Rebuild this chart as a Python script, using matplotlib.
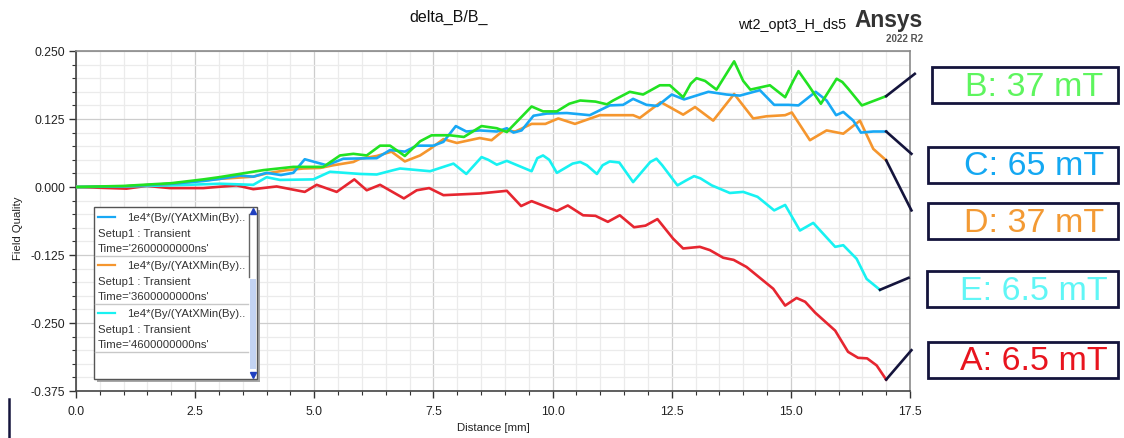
import matplotlib
matplotlib.use('Agg')
import matplotlib.pyplot as plt
from matplotlib.patches import Rectangle
from matplotlib.lines import Line2D
from matplotlib.ticker import MultipleLocator, FormatStrFormatter

plt.rcParams['font.family'] = ['Liberation Sans', 'DejaVu Sans']

# ---- data (Distance [mm], Field Quality) ----
B_x = [0, 1.0, 2.0, 2.67, 3.0, 3.5, 3.93, 4.56, 5.19, 5.54, 5.82, 6.1, 6.38, 6.59, 6.9,
       7.22, 7.46, 7.85, 8.14, 8.51, 8.83, 9.04, 9.56, 9.80, 10.09, 10.35, 10.58, 10.9,
       11.14, 11.27, 11.62, 11.90, 12.25, 12.46, 12.74, 12.9, 13.02, 13.2, 13.44, 13.81,
       14.0, 14.15, 14.56, 14.88, 15.05, 15.16, 15.37, 15.63, 15.96, 16.08, 16.20, 16.49, 17.0]
B_y = [0, 0.002, 0.007, 0.014, 0.018, 0.025, 0.031, 0.037, 0.037, 0.058, 0.061, 0.058, 0.076,
       0.076, 0.057, 0.084, 0.095, 0.095, 0.092, 0.112, 0.108, 0.101, 0.148, 0.139, 0.139,
       0.153, 0.159, 0.157, 0.152, 0.159, 0.175, 0.170, 0.187, 0.187, 0.165, 0.19, 0.200,
       0.195, 0.179, 0.231, 0.195, 0.179, 0.187, 0.165, 0.195, 0.213, 0.187, 0.153, 0.199,
       0.193, 0.181, 0.150, 0.167]

C_x = [0, 1.0, 2.0, 2.67, 3.02, 3.44, 3.72, 4.0, 4.3, 4.56, 4.8, 5.26, 5.61, 6.31, 6.59,
       6.9, 7.15, 7.5, 7.71, 7.97, 8.19, 8.47, 8.83, 9.04, 9.18, 9.35, 9.6, 9.88, 10.3,
       10.78, 11.2, 11.48, 11.69, 11.97, 12.2, 12.5, 12.76, 13.27, 13.65, 13.93, 14.35,
       14.65, 14.95, 15.16, 15.52, 15.75, 15.95, 16.1, 16.31, 16.47, 16.73, 17.0]
C_y = [0, 0.001, 0.006, 0.011, 0.015, 0.021, 0.019, 0.026, 0.022, 0.026, 0.051, 0.040,
       0.052, 0.053, 0.068, 0.065, 0.076, 0.076, 0.083, 0.112, 0.102, 0.104, 0.102, 0.108,
       0.100, 0.104, 0.131, 0.135, 0.136, 0.132, 0.150, 0.151, 0.162, 0.151, 0.149, 0.170,
       0.161, 0.175, 0.170, 0.168, 0.178, 0.151, 0.151, 0.150, 0.175, 0.159, 0.132, 0.138,
       0.122, 0.100, 0.102, 0.102]

D_x = [0, 1.0, 2.0, 2.67, 3.02, 3.72, 4.0, 4.42, 4.77, 5.12, 5.4, 5.82, 5.96, 6.31, 6.62,
       6.9, 7.22, 7.43, 7.71, 7.99, 8.47, 8.72, 8.97, 9.22, 9.56, 9.85, 10.12, 10.47, 10.99,
       11.69, 11.83, 12.27, 12.74, 12.99, 13.37, 13.81, 14.21, 14.49, 14.88, 15.02, 15.4,
       15.75, 16.1, 16.45, 16.73, 17.0]
D_y = [0, 0.001, 0.006, 0.012, 0.015, 0.019, 0.025, 0.031, 0.034, 0.035, 0.040, 0.046,
       0.052, 0.057, 0.065, 0.047, 0.058, 0.070, 0.088, 0.081, 0.090, 0.086, 0.104, 0.102,
       0.116, 0.116, 0.126, 0.116, 0.132, 0.132, 0.127, 0.156, 0.133, 0.147, 0.122, 0.171,
       0.126, 0.130, 0.132, 0.137, 0.086, 0.104, 0.098, 0.122, 0.070, 0.049]

E_x = [0, 1.0, 2.0, 3.02, 3.72, 4.0, 4.28, 4.98, 5.33, 5.96, 6.31, 6.66, 6.8, 7.43, 7.92,
       8.19, 8.51, 8.65, 8.83, 9.04, 9.56, 9.68, 9.8, 9.93, 10.09, 10.42, 10.58, 10.72,
       10.93, 11.05, 11.2, 11.4, 11.69, 12.05, 12.18, 12.3, 12.62, 12.8, 12.97, 13.1, 13.34,
       13.72, 14.0, 14.3, 14.65, 14.88, 15.19, 15.47, 15.93, 16.1, 16.38, 16.59, 16.87]
E_y = [0, 0.001, 0.003, 0.006, 0.004, 0.018, 0.013, 0.014, 0.028, 0.024, 0.023, 0.031,
       0.034, 0.029, 0.043, 0.024, 0.055, 0.050, 0.041, 0.048, 0.029, 0.053, 0.058, 0.050,
       0.026, 0.043, 0.046, 0.040, 0.024, 0.040, 0.047, 0.045, 0.009, 0.046, 0.052, 0.040,
       0.003, 0.012, 0.020, 0.016, 0.003, -0.011, -0.009, -0.018, -0.043, -0.033, -0.080,
       -0.066, -0.110, -0.107, -0.132, -0.169, -0.189]

A_x = [0, 1.06, 1.48, 1.97, 2.67, 3.37, 3.72, 4.21, 4.8, 5.05, 5.47, 5.84, 6.1, 6.38, 6.88,
       7.15, 7.41, 7.71, 8.47, 9.04, 9.34, 9.56, 10.09, 10.32, 10.64, 10.9, 11.16, 11.41,
       11.71, 11.95, 12.2, 12.53, 12.74, 13.09, 13.3, 13.58, 13.8, 14.07, 14.42, 14.63,
       14.88, 15.12, 15.3, 15.51, 15.93, 16.2, 16.41, 16.6, 16.8, 17.0]
A_y = [0, -0.003, 0.002, -0.002, -0.002, 0.003, -0.004, 0.001, -0.009, 0.004, -0.009, 0.014,
       -0.006, 0.004, -0.021, -0.006, -0.002, -0.015, -0.012, -0.007, -0.035, -0.026,
       -0.044, -0.034, -0.052, -0.053, -0.064, -0.052, -0.074, -0.071, -0.059, -0.095,
       -0.113, -0.110, -0.116, -0.130, -0.134, -0.147, -0.172, -0.187, -0.218, -0.204,
       -0.211, -0.231, -0.264, -0.303, -0.314, -0.315, -0.328, -0.354]

line_colors = {'B': '#22E222', 'C': '#18A8F5', 'D': '#F5962E', 'E': '#18F2F2', 'A': '#E62630'}
box_labels = ['B: 37 mT', 'C: 65 mT', 'D: 37 mT', 'E: 6.5 mT', 'A: 6.5 mT']
box_colors = ['#5EF55E', '#14A8F2', '#F39A34', '#60F6F6', '#E8141E']
# where each callout leader ends (data coords, just outside the axes)
tip_x = [17.6, 17.53, 17.53, 17.47, 17.53]
tip_y = [0.208, 0.061, -0.043, -0.167, -0.300]

legend_lines = ['1e4*(By/(YAtXMin(By)..'] * 3
legend_times = ["Time='2600000000ns'", "Time='3600000000ns'", "Time='4600000000ns'"]
legend_cols = ['#18A8F5', '#F5962E', '#18F2F2']

W, H = 1124, 439
NAVY = '#14143C'


def fx(p):
    return p / W


def fy(p):
    return 1 - p / H


fig = plt.figure(figsize=(W / 100, H / 100), dpi=100)
ax = fig.add_axes([fx(76), fy(392), fx(910) - fx(76), fy(52) - fy(392)])

series = [('B', B_x, B_y), ('C', C_x, C_y), ('D', D_x, D_y), ('E', E_x, E_y), ('A', A_x, A_y)]
# draw order: red, cyan, orange, blue, green on top
for name in ['A', 'E', 'D', 'C', 'B']:
    for n, xs, ys in series:
        if n == name:
            ax.plot(xs, ys, color=line_colors[n], lw=1.9, solid_joinstyle='round', zorder=3)

ax.set_xlim(0, 17.5)
ax.set_ylim(-0.375, 0.25)
ax.xaxis.set_major_locator(MultipleLocator(2.5))
ax.xaxis.set_minor_locator(MultipleLocator(0.5))
ax.yaxis.set_major_locator(MultipleLocator(0.125))
ax.yaxis.set_minor_locator(MultipleLocator(0.025))
ax.xaxis.set_major_formatter(FormatStrFormatter('%.1f'))
ax.yaxis.set_major_formatter(FormatStrFormatter('%.3f'))
ax.grid(which='major', color='#cdcdcd', lw=0.9)
ax.grid(which='minor', color='#ebebeb', lw=0.9)
ax.set_axisbelow(True)
ax.tick_params(which='major', direction='out', length=5, width=1, color='#333333',
               labelsize=8.8, labelcolor='#222222', pad=3)
ax.tick_params(axis='x', which='major', pad=5)
ax.tick_params(which='minor', direction='out', length=3, width=0.8, color='#333333')
for s in ['left', 'bottom']:
    ax.spines[s].set_color('#444444')
    ax.spines[s].set_linewidth(1.2)
for s in ['top', 'right']:
    ax.spines[s].set_color('#8a8a8a')
    ax.spines[s].set_linewidth(1.2)

# callout leaders
for i, (n, xs, ys) in enumerate(series):
    ax.plot([xs[-1], tip_x[i]], [ys[-1], tip_y[i]], color=NAVY, lw=1.9,
            clip_on=False, zorder=4)

# titles and axis labels
fig.text(fx(449), fy(17), 'delta_B/B_', ha='center', va='center', fontsize=11.5, color='#111111')
fig.text(fx(846), fy(25), 'wt2_opt3_H_ds5', ha='right', va='center', fontsize=10.4, color='#111111')
fig.text(fx(923), fy(21), 'Ansys', ha='right', va='center', fontsize=16.4, weight='bold', color='#333333')
fig.text(fx(923), fy(39), '2022 R2', ha='right', va='center', fontsize=7, weight='bold', color='#555555')
fig.text(fx(18), fy(228), 'Field Quality', rotation=90, ha='center', va='center', fontsize=8.2, color='#222222')
fig.text(fx(493), fy(428), 'Distance [mm]', ha='center', va='center', fontsize=8.2, color='#222222')

# right-hand callout boxes
box_tops = [68, 148, 204, 272, 343]
box_lefts = [932, 928, 928, 927, 928]
for i, lab in enumerate(box_labels):
    top, left = box_tops[i], box_lefts[i]
    fig.add_artist(Rectangle((fx(left), fy(top + 36)), fx(1118) - fx(left), fy(top) - fy(top + 36),
                             transform=fig.transFigure, facecolor='white', edgecolor=NAVY, lw=2))
    fig.text(fx(1034), fy(top + 19), lab, ha='center', va='center', fontsize=24.5, color=box_colors[i])

# legend box with shadow
fig.add_artist(Rectangle((fx(97), fy(383)), fx(257) - fx(94), fy(208) - fy(380),
                         transform=fig.transFigure, facecolor='#a8a8a8', edgecolor='none'))
fig.add_artist(Rectangle((fx(94), fy(380)), fx(257) - fx(94), fy(208) - fy(380),
                         transform=fig.transFigure, facecolor='white', edgecolor='#555555', lw=1))
for i in range(3):
    y0 = 218 + 48 * i
    fig.add_artist(Line2D([fx(98), fx(115)], [fy(y0), fy(y0)], transform=fig.transFigure,
                          color=legend_cols[i], lw=1.6))
    fig.text(fx(127), fy(y0), legend_lines[i], ha='left', va='center', fontsize=8.2, color='#333333')
    fig.text(fx(98), fy(y0 + 16), 'Setup1 : Transient', ha='left', va='center', fontsize=8.2, color='#333333')
    fig.text(fx(98), fy(y0 + 31), legend_times[i], ha='left', va='center', fontsize=8.2, color='#333333')
    fig.add_artist(Line2D([fx(95), fx(248)], [fy(y0 + 39), fy(y0 + 39)], transform=fig.transFigure,
                          color='#c8c8c8', lw=1))
# scroll bar
fig.add_artist(Line2D([fx(249), fx(249)], [fy(215), fy(278)], transform=fig.transFigure,
                      color='#666666', lw=1))
fig.add_artist(Rectangle((fx(250), fy(370)), fx(256) - fx(250), fy(280) - fy(370),
                         transform=fig.transFigure, facecolor='#c3d3f2', edgecolor='none'))
fig.add_artist(Line2D([fx(253)], [fy(212)], transform=fig.transFigure, marker='^',
                      markersize=4, color='#1f3fbf', lw=0))
fig.add_artist(Line2D([fx(253)], [fy(376)], transform=fig.transFigure, marker='v',
                      markersize=4, color='#1f3fbf', lw=0))

# stray navy mark at the bottom left of the slide
fig.add_artist(Line2D([fx(9), fx(9)], [fy(400), fy(439)], transform=fig.transFigure,
                      color=NAVY, lw=1.8))

fig.savefig('out.png', dpi=100)
